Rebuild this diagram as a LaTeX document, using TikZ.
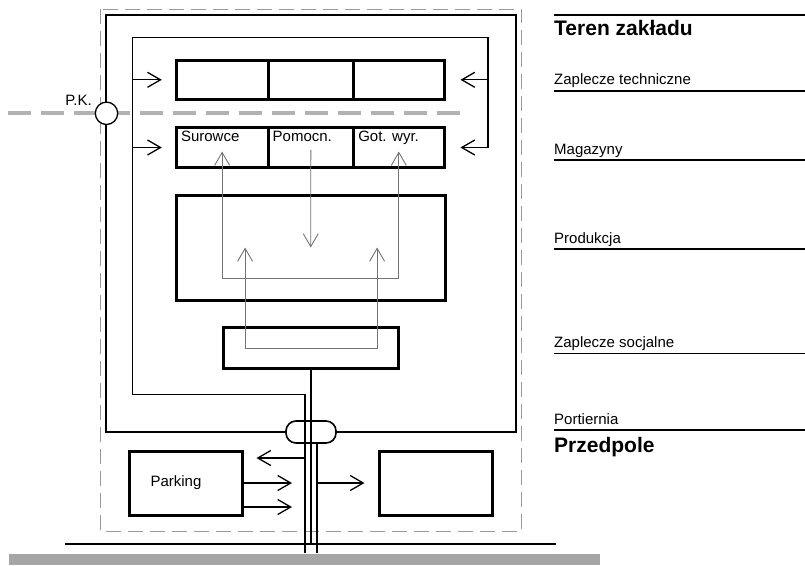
\documentclass[tikz,border=0pt]{standalone}
\usepackage{fontspec}
\setmainfont{Liberation Sans}
\usetikzlibrary{arrows.meta, fit, positioning}

\begin{document}
\begin{tikzpicture}
% Style
[
    x=1pt, y=-1pt, line cap=butt,
    >={Straight Barb[length=13pt, width=15pt]},
    every node/.style={font=\fontsize{15}{18}\selectfont, inner sep=0pt},
    title text/.style={font=\bfseries\fontsize{21}{25}\selectfont, anchor=base west},
    zone text/.style={anchor=base west},
    hall/.style={draw, line width=3pt, inner sep=0pt},
    fence line/.style={draw=black!40, line width=1pt, dash pattern=on 15pt off 7pt},
    wall line/.style={line width=2pt},
    pk line/.style={draw=black!30, line width=4pt, dash pattern=on 23pt off 10pt},
    route line/.style={line width=1.3pt},
    main line/.style={line width=2.2pt},
    flow line/.style={line width=0.9pt, draw=black!55},
    rule line/.style={line width=1.6pt}
]

% Define: Params
\newcommand{\tipgap}{13pt} %gap_before_box

\useasboundingbox (0,0) rectangle (805,565);

%================================== Site ==================================
{
    % Draw: fence and walls
    \draw[fence line] (100,9.3) rectangle (521.7,531.5);
    \draw[wall line] (106,15) rectangle (515.5,431.7);

    % Draw: P.K.
    \draw[pk line] (7.6,113.3) -- (463,113.3);
    \node[circle, draw, fill=white, line width=1.3pt, minimum size=22.4pt] (pk) at (106.5,113.3) {};
    \node[anchor=base east] (pk label) at (92,105) {P.K.};

    % Draw: technical row
    \node[hall, fit={(176.3,60.3) (268,99.3)}] (tech1) {};
    \node[hall, fit={(268,60.3) (353.6,99.3)}] (tech2) {};
    \node[hall, fit={(353.6,60.3) (444,99.3)}] (tech3) {};

    % Draw: stores
    \foreach \name / \xa / \xb / \nazwa in {raw/176.3/268/Surowce, aux/268/353.6/Pomocn., goods/353.6/444/Got. wyr.} {
        \node[hall, fit={(\xa,127.3) (\xb,167.7)},
              label={[anchor=north west, xshift=6pt, yshift=-5.4pt]north west:\nazwa}] (\name) {};
    }

    % Draw: production and social
    \node[hall, fit={(176.3,195) (445.2,300)}] (prod) {};
    \node[hall, fit={(223.8,327.7) (398.4,368.3)}] (social) {};

    % Draw: forecourt
    \node[hall, fit={(129,451) (242,515)}, label={[xshift=-9.5pt]center:Parking}] (parking) {};
    \node[hall, fit={(379,451) (492,515)}] (lot) {};

    % Draw: gate
    \node[draw, fill=white, rounded corners=10pt, minimum width=50pt, minimum height=22pt,
          line width=1.6pt] (gate) at (311,432) {};

    % Define: route points
    \coordinate (entry l) at (305,553);
    \coordinate (entry r) at (317,553);
    \coordinate (loop sw) at (132.6,394.5);
    \coordinate (loop ne) at (488,37.7);
    \coordinate (road) at (65,544);
    \coordinate (flow low) at ([yshift=22.7pt]prod.south);
    \coordinate (soc l) at ([xshift=-66pt]social.center);
    \coordinate (soc r) at ([xshift=66pt]social.center);
    \coordinate (park in) at ([yshift=25pt]parking.east);
    \coordinate (park out) at ([yshift=-24pt]parking.east);

    % Draw: inner route
    \draw[route line, ->, shorten >=15pt] (entry l) |- (loop sw) |- (loop ne) |- (goods.east);
    \draw[route line, ->, shorten >=\tipgap] (tech1.west -| loop sw) -- (tech1.west);
    \draw[route line, ->, shorten >=\tipgap] (raw.west -| loop sw) -- (raw.west);
    \draw[route line, ->, shorten >=15pt] (tech3.east -| loop ne) -- (tech3.east);

    % Draw: material flow
    \draw[flow line, <->] ([yshift=17.7pt]raw.south) -- (raw.south |- flow low) -| ([yshift=17.7pt]goods.south);
    \draw[flow line, ->] ([yshift=19.4pt]aux.south) -- (prod.center);
    \draw[flow line, <->] (soc l |- prod.center) -- (soc l) -- (soc r) -- (soc r |- prod.center);

    % Draw: entrance
    \draw[main line] (social.south) -- (social.south |- road);
    \draw[route line] (entry r) -- (entry r |- gate.south);
    \draw[route line, ->, shorten >=\tipgap] (park in -| entry l) -- (park in);
    \draw[route line, ->, shorten >=\tipgap] (parking.east) -- (parking.east -| entry l);
    \draw[route line, ->, shorten >=\tipgap] (park out) -- (park out -| entry l);
    \draw[route line, ->, shorten >=\tipgap] (lot.west -| entry r) -- (lot.west);

    % Draw: road
    \draw[rule line] (road) -- (556,544);
    \fill[black!35] (8.7,554) rectangle (600,565);
}

%================================== Zones ==================================
{
    \draw[rule line] (554,15) -- (805,15);
    \node[title text] (site) at (554,35) {Teren zakładu};
    \foreach \y / \nazwa [count=\i] in {90.7/Zaplecze techniczne, 160/Magazyny, 249/Produkcja, 353.3/Zaplecze socjalne, 430/Portiernia} {
        \node[zone text] (zone\i) at (554,\y-6) {\nazwa};
        \draw[rule line] (554,\y) -- (805,\y);
    }
    \node[title text] (forecourt) at (554,452) {Przedpole};
}
%==================================== END ====================================

\end{tikzpicture}
\end{document}
